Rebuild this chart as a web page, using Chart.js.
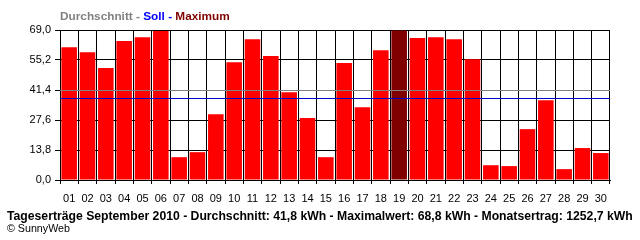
<!DOCTYPE html>
<html>
<head>
<meta charset="utf-8">
<script src="https://cdn.jsdelivr.net/npm/chart.js@4"></script>
<style>
  body { margin: 0; background: #fff; }
  #wrap { width: 640px; height: 240px; }
</style>
</head>
<body>
<div id="wrap"><canvas id="yieldChart" width="640" height="240"></canvas></div>
<script>
// Tageserträge September 2010
const days = ["01","02","03","04","05","06","07","08","09","10","11","12","13","14","15",
  "16","17","18","19","20","21","22","23","24","25","26","27","28","29","30"];
const yields = [61.1, 58.8, 51.5, 63.9, 65.7, 68.5, 10.5, 12.8, 30.3, 54.2,
  64.8, 57.0, 40.4, 28.5, 10.5, 53.8, 33.5, 59.7, 68.8, 65.3,
  65.7, 64.8, 55.6, 6.8, 6.4, 23.4, 36.7, 5.0, 14.7, 12.4];
const yTicks = [0, 13.8, 27.6, 41.4, 55.2, 69.0];
const avgValue = 41.8;   // Durchschnitt
const sollValue = 38.0;  // Soll
const maxValue = 68.8;
const monthTotal = 1252.7;

const fontFamily = "'Liberation Sans', Arial, sans-serif";
const fmt = (v) => v.toFixed(1).replace(".", ",");

const footerText = "Tageserträge September 2010 - Durchschnitt: " + fmt(avgValue) +
  " kWh - Maximalwert: " + fmt(maxValue) + " kWh - Monatsertrag: " + fmt(monthTotal) + " kWh";
const headerParts = [
  { text: "Durchschnitt - ", color: "#808080" },
  { text: "Soll - ", color: "#0000ff" },
  { text: "Maximum", color: "#800000" },
];

const barColors = yields.map((v) => (v === Math.max(...yields) ? "#800000" : "#ff0000"));

// set font so the text fills the given width
function fitFont(ctx, text, weight, base, target) {
  ctx.font = weight + " " + base + "px " + fontFamily;
  const w = ctx.measureText(text).width;
  const size = base * target / w;
  ctx.font = weight + " " + size.toFixed(2) + "px " + fontFamily;
}

const extras = {
  id: "extras",
  afterDraw(chart) {
    const ctx = chart.ctx;
    const area = chart.chartArea;
    const yScale = chart.scales.y;
    ctx.save();
    // Durchschnitt + Soll lines over the bars
    ctx.lineWidth = 1;
    [[avgValue, "#808080"], [sollValue, "#0000cc"]].forEach((ref) => {
      const py = Math.ceil(yScale.getPixelForValue(ref[0])) + 0.5;
      ctx.strokeStyle = ref[1];
      ctx.beginPath();
      ctx.moveTo(area.left, py);
      ctx.lineTo(area.right, py);
      ctx.stroke();
    });
    ctx.textBaseline = "alphabetic";
    ctx.textAlign = "left";
    // header
    const headerAll = headerParts.map((p) => p.text).join("");
    fitFont(ctx, headerAll, "bold", 11, 170);
    let x = 60;
    headerParts.forEach((p) => {
      ctx.fillStyle = p.color;
      ctx.fillText(p.text, x, 20);
      x += ctx.measureText(p.text).width;
    });
    // footer
    ctx.fillStyle = "#000";
    fitFont(ctx, footerText, "bold", 11, 626);
    ctx.fillText(footerText, 7, 220);
    fitFont(ctx, "© SunnyWeb", "normal", 10, 63);
    ctx.fillText("© SunnyWeb", 7, 232);
    ctx.restore();
  },
};

new Chart(document.getElementById("yieldChart"), {
  type: "bar",
  data: {
    labels: days,
    datasets: [{
      data: yields,
      backgroundColor: barColors,
      borderWidth: 0,
      categoryPercentage: 1,
      barPercentage: 0.85,
    }],
  },
  options: {
    responsive: false,
    animation: false,
    devicePixelRatio: 1,
    layout: { padding: { top: 30, right: 30, left: 0, bottom: 0 } },
    plugins: { legend: { display: false }, tooltip: { enabled: false } },
    scales: {
      x: {
        grid: { color: "#000", offset: true, tickLength: 4, lineWidth: 1 },
        border: { color: "#000" },
        ticks: {
          color: "#000",
          font: { family: fontFamily, size: 11 },
          padding: 8,
          maxRotation: 0,
          autoSkip: false,
        },
        afterFit: (s) => { s.height = 60; },
      },
      y: {
        min: 0,
        max: 69,
        afterBuildTicks: (s) => { s.ticks = yTicks.map((v) => ({ value: v })); },
        grid: { color: "#000", tickLength: 5, lineWidth: 1 },
        border: { color: "#000" },
        ticks: {
          color: "#000",
          font: { family: fontFamily, size: 11 },
          padding: 4,
          callback: (v) => fmt(v),
        },
        afterFit: (s) => { s.width = 60; },
      },
    },
  },
  plugins: [extras],
});
</script>
</body>
</html>
